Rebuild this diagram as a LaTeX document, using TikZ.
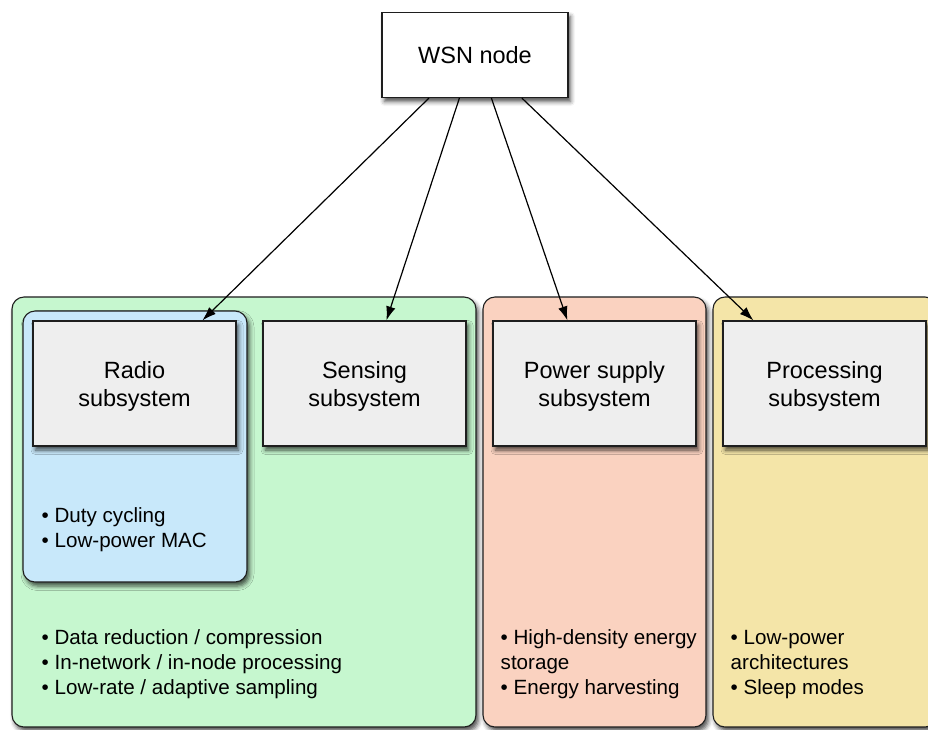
\documentclass[tikz,border=0pt]{standalone}
\usepackage{fontspec}
\setmainfont{Liberation Sans}
\usetikzlibrary{arrows.meta,shadows.blur}

\definecolor{panelgreen}{RGB}{198,247,207}
\definecolor{panelblue}{RGB}{200,232,250}
\definecolor{panelpeach}{RGB}{250,210,192}
\definecolor{panelyellow}{RGB}{244,229,168}
\definecolor{boxgray}{RGB}{238,238,238}
\definecolor{edge}{RGB}{30,30,30}

\tikzset{
  softshadow/.style={blur shadow={shadow xshift=2.5pt, shadow yshift=-4pt,
      shadow blur radius=4.5pt, shadow opacity=70}},
  panel/.style={draw=edge, line width=1.1pt, rounded corners=12pt,
      inner sep=0pt, outer sep=0pt, softshadow},
  subbox/.style={draw=edge, line width=1.2pt, fill=boxgray, inner sep=0pt,
      minimum width=203pt, minimum height=125pt, align=center,
      text height=51pt, text depth=5pt,
      font=\fontsize{23.5}{28}\selectfont, softshadow},
  topbox/.style={draw=edge, line width=1.2pt, fill=white, inner sep=0pt,
      minimum width=186pt, minimum height=85pt,
      font=\fontsize{23.5}{28}\selectfont, softshadow},
  % anchored at the baseline of the last line
  bullets/.style={inner sep=0pt, align=left, anchor=base west,
      font=\fontsize{20.6}{25}\selectfont},
  arr/.style={-{Latex[length=14pt,width=9.5pt]}, line width=1.2pt, draw=black}
}

\begin{document}
\begin{tikzpicture}[x=1pt,y=-1pt]
\useasboundingbox (0,0) rectangle (928,729);
\clip (0,0) rectangle (928,729);

% subsystem groups
\node[panel, fill=panelgreen, minimum width=464pt, minimum height=430pt] (commgrp) at (244,512) {};
\node[panel, fill=panelpeach, minimum width=223pt, minimum height=430pt] (powergrp) at (594.5,512) {};
\node[panel, fill=panelyellow, minimum width=224pt, minimum height=430pt] (procgrp) at (825,512) {};
\node[panel, fill=panelblue, minimum width=224pt, minimum height=271pt] (radiogrp) at (135,446.5) {};

% subsystem boxes
\node[subbox] (radio) at (134.5,383.5) {Radio\\subsystem};
\node[subbox] (sensing) at (364.5,383.5) {Sensing\\subsystem};
\node[subbox] (power) at (594.5,383.5) {Power supply\\subsystem};
\node[subbox] (proc) at (824.5,383.5) {Processing\\subsystem};

% techniques per subsystem
\node[bullets] (radiolist) at (41.5,547) {• Duty cycling\\• Low-power MAC};
\node[bullets] (commlist) at (41.5,694) {• Data reduction / compression\\• In-network / in-node processing\\• Low-rate / adaptive sampling};
\node[bullets] (powerlist) at (500.5,694) {• High-density energy\\storage\\• Energy harvesting};
\node[bullets] (proclist) at (730.5,694) {• Low-power\\architectures\\• Sleep modes};

% root
\node[topbox] (wsn) at (475,55) {WSN node};

% connectors
\draw[arr] ([xshift=47.5pt]wsn.south west) -- ([xshift=170pt]radio.north west);
\draw[arr] ([xshift=78pt]wsn.south west) -- ([xshift=124pt]sensing.north west);
\draw[arr] ([xshift=110pt]wsn.south west) -- ([xshift=75pt]power.north west);
\draw[arr] ([xshift=140.5pt]wsn.south west) -- ([xshift=31pt]proc.north west);
\end{tikzpicture}
\end{document}
